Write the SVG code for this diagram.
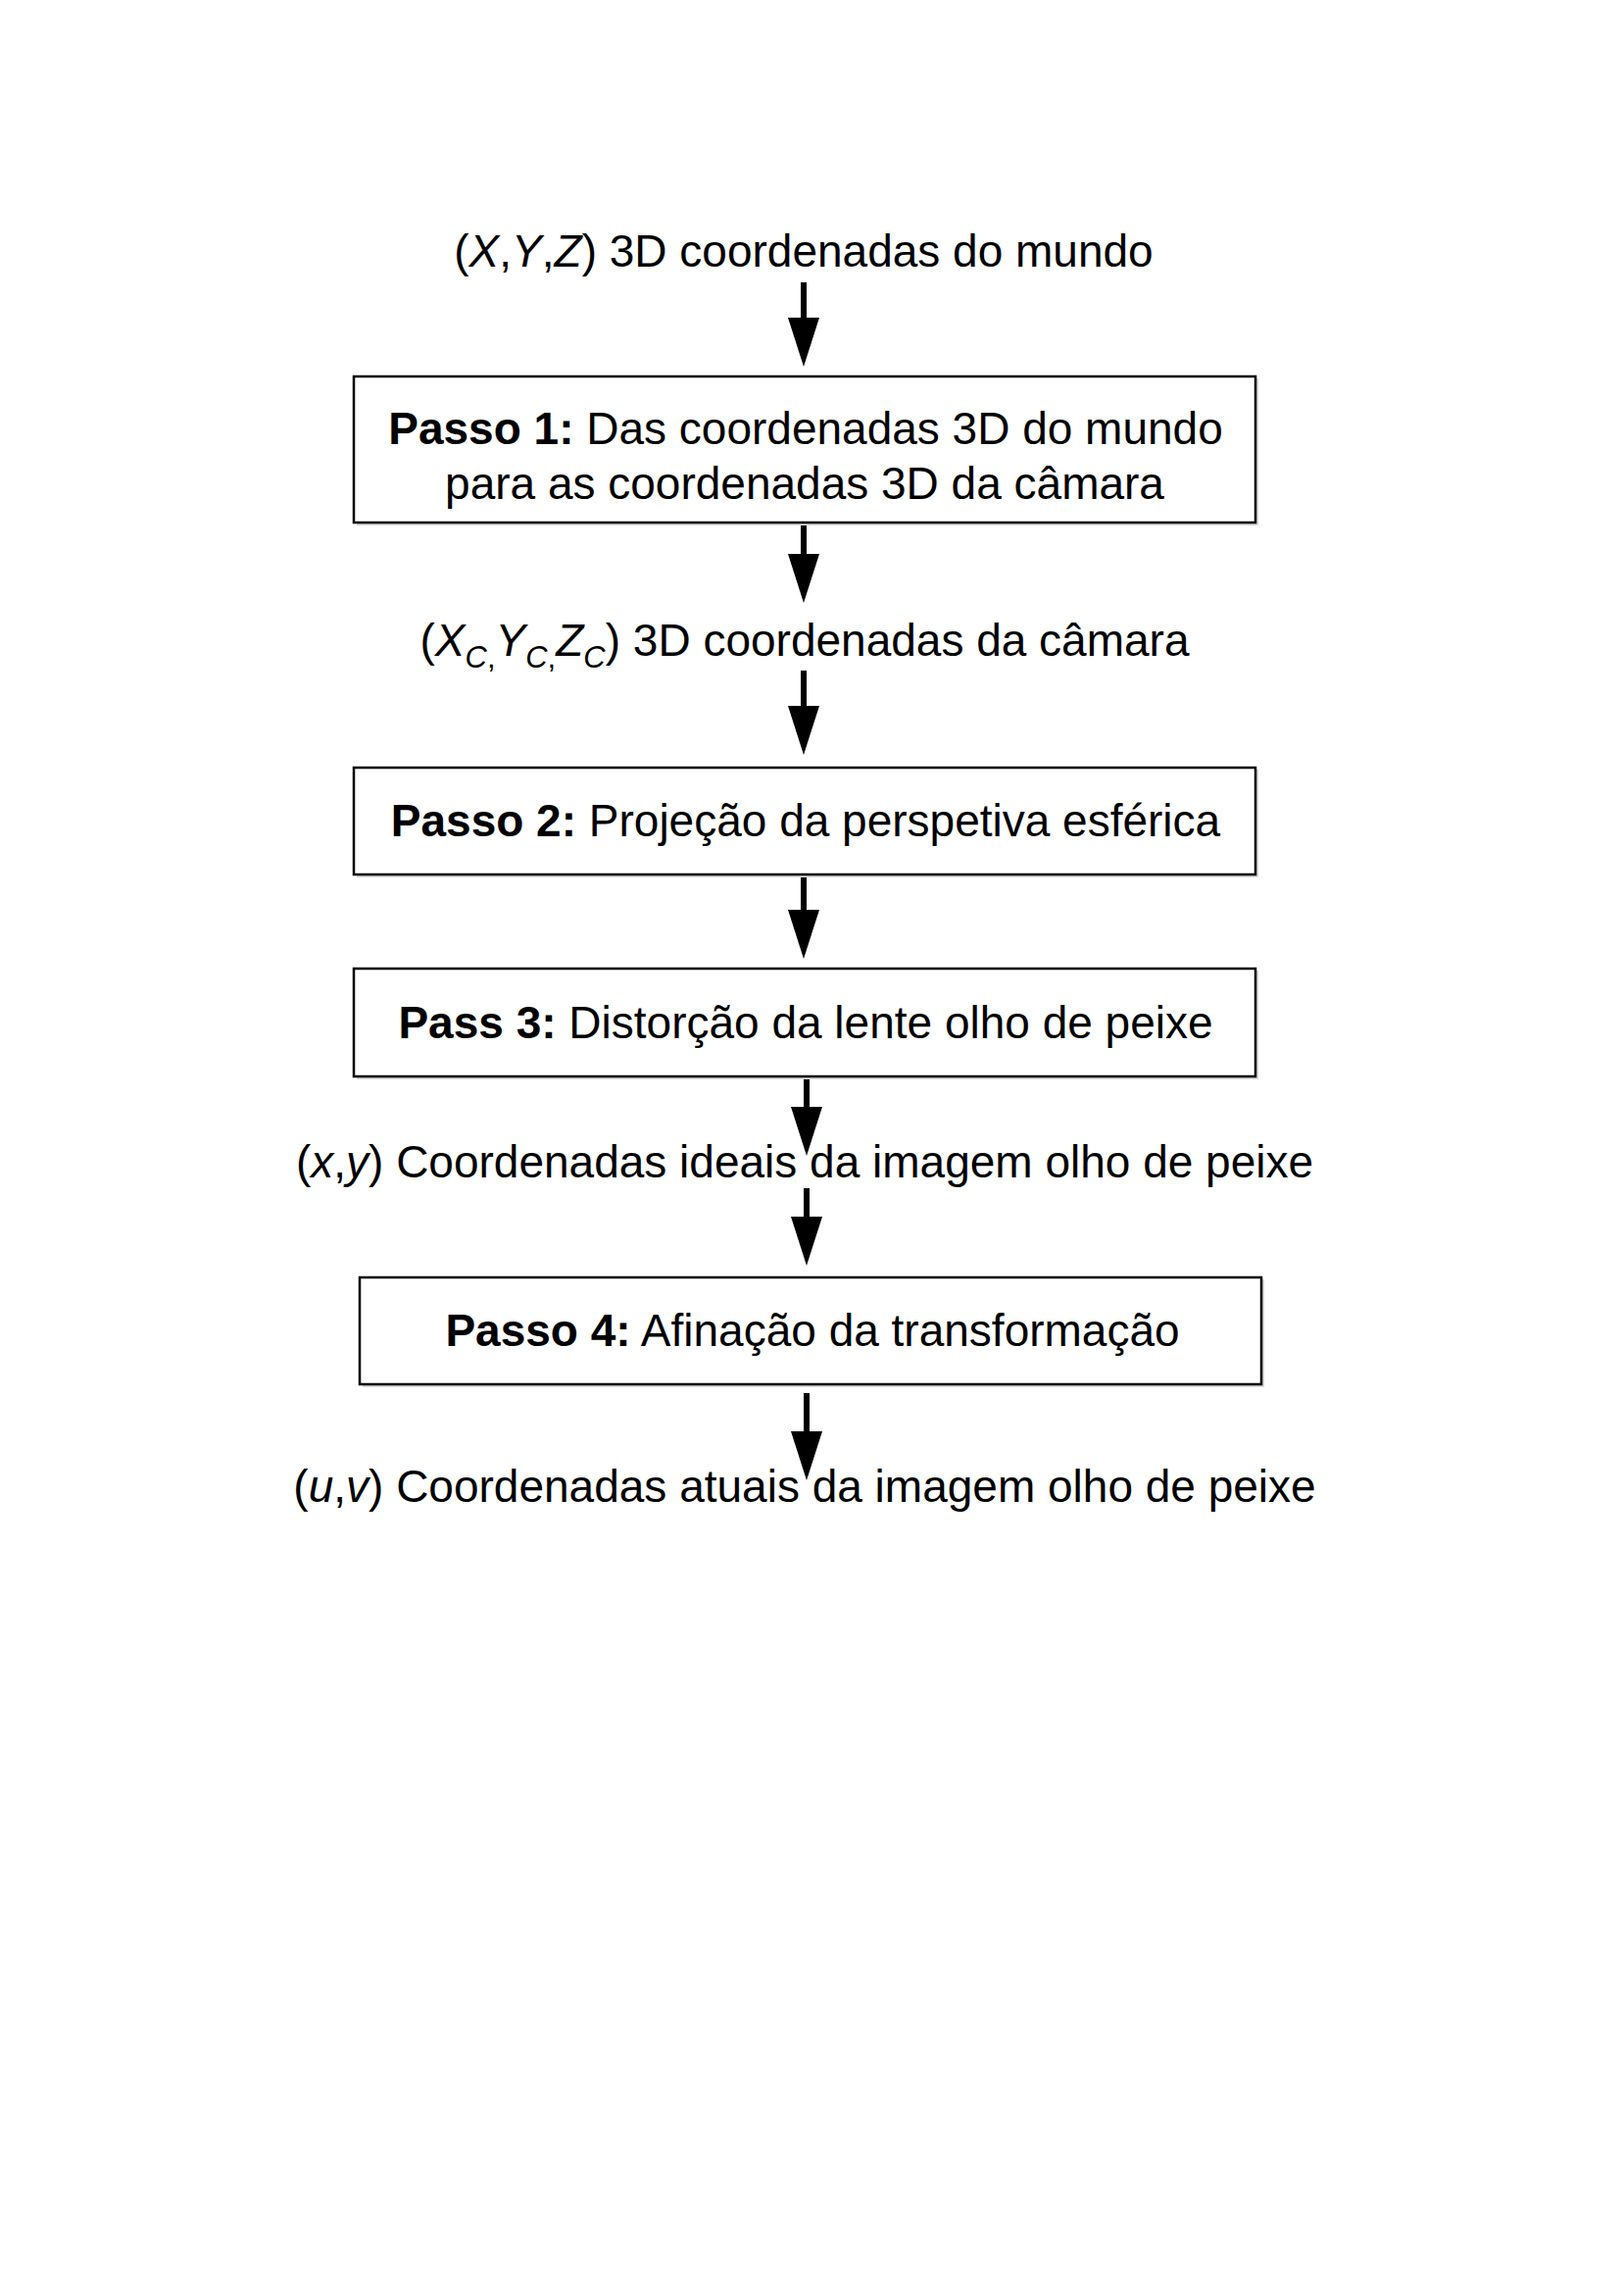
<svg xmlns="http://www.w3.org/2000/svg" width="1656" height="2342" viewBox="0 0 1656 2342">
<style>
text{font-family:"Liberation Sans",Arial,sans-serif;font-size:46px;fill:#000;text-anchor:middle}
.b{font-weight:bold}
.i{font-style:italic}
.box{fill:#fff;stroke:#000;stroke-width:2.5}
.sh{fill:#d9d9d9}
.arr{stroke:#000;stroke-width:6;fill:none;marker-end:url(#ah)}
</style>
<defs>
<marker id="ah" viewBox="0 0 50 32" markerWidth="50" markerHeight="32" refX="2" refY="16" orient="auto" markerUnits="userSpaceOnUse">
<path d="M0,0 L50,16 L0,32 Z" fill="#000"/>
</marker>
</defs>
<rect width="1656" height="2342" fill="#fff"/>
<g id="connectors">
<line class="arr" x1="820" y1="288" x2="820" y2="326"/>
<line class="arr" x1="820" y1="533" x2="820" y2="567"/>
<line class="arr" x1="820" y1="684" x2="820" y2="722"/>
<line class="arr" x1="820" y1="893" x2="820" y2="930"/>
<line class="arr" x1="823" y1="1100" x2="823" y2="1131"/>
<line class="arr" x1="823" y1="1212" x2="823" y2="1243"/>
<line class="arr" x1="823" y1="1421" x2="823" y2="1462"/>
</g>
<g id="world">
<text x="820" y="272">(<tspan class="i">X</tspan>,<tspan class="i">Y</tspan>,<tspan class="i">Z</tspan>) 3D coordenadas do mundo</text>
</g>
<g id="step1">
<rect class="sh" x="364" y="386" width="920" height="150"/>
<rect class="box" x="361" y="384" width="920" height="149"/>
<text x="822" y="453"><tspan class="b">Passo 1:</tspan> Das coordenadas 3D do mundo</text>
<text x="821" y="509">para as coordenadas 3D da câmara</text>
</g>
<g id="camera">
<text x="821" y="669">(<tspan class="i">X</tspan><tspan class="i" font-size="31" dy="12">C</tspan><tspan font-size="31">,</tspan><tspan class="i" dy="-12">Y</tspan><tspan class="i" font-size="31" dy="12">C</tspan><tspan font-size="31">,</tspan><tspan class="i" dy="-12">Z</tspan><tspan class="i" font-size="31" dy="12">C</tspan><tspan dy="-12">) 3D coordenadas da câmara</tspan></text>
</g>
<g id="step2">
<rect class="sh" x="364" y="785" width="920" height="110"/>
<rect class="box" x="361" y="783" width="920" height="109"/>
<text x="822" y="853"><tspan class="b">Passo 2:</tspan> Projeção da perspetiva esférica</text>
</g>
<g id="step3">
<rect class="sh" x="364" y="990" width="920" height="111"/>
<rect class="box" x="361" y="988" width="920" height="110"/>
<text x="822" y="1059"><tspan class="b">Pass 3:</tspan> Distorção da lente olho de peixe</text>
</g>
<g id="ideal">
<text x="821" y="1201">(<tspan class="i">x</tspan>,<tspan class="i">y</tspan>) Coordenadas ideais da imagem olho de peixe</text>
</g>
<g id="step4">
<rect class="sh" x="370" y="1305" width="920" height="110"/>
<rect class="box" x="367" y="1303" width="920" height="109"/>
<text x="829" y="1373"><tspan class="b">Passo 4:</tspan> Afinação da transformação</text>
</g>
<g id="actual">
<text x="821" y="1532">(<tspan class="i">u</tspan>,<tspan class="i">v</tspan>) Coordenadas atuais da imagem olho de peixe</text>
</g>
</svg>
